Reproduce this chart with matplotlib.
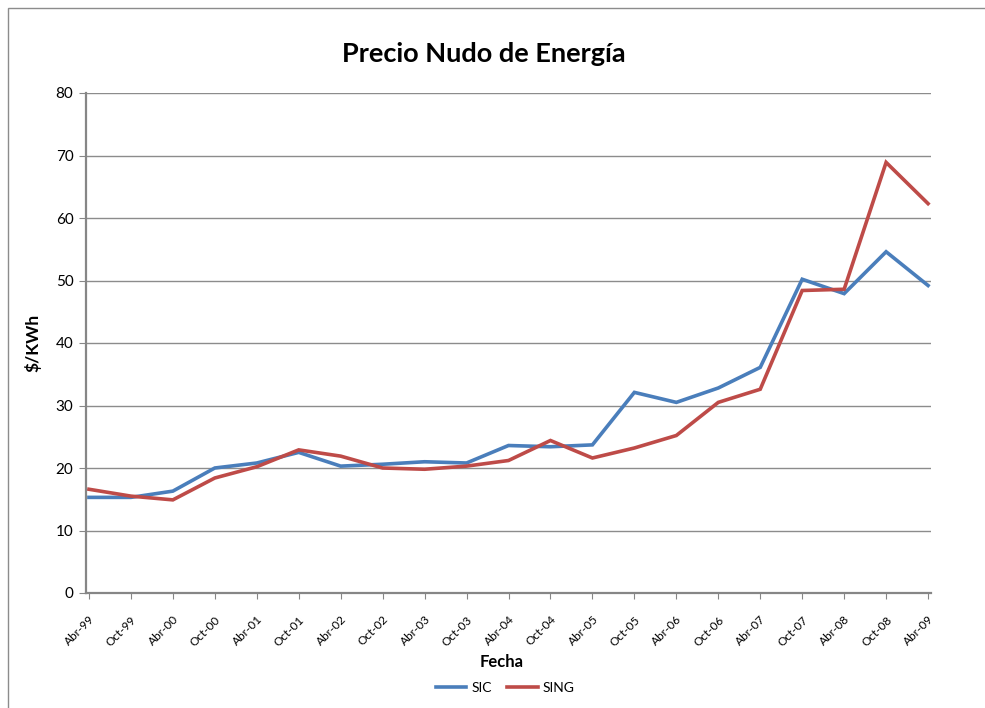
import matplotlib
matplotlib.use("Agg")
import matplotlib.pyplot as plt
from matplotlib.patches import Rectangle

fechas = ["Abr-99", "Oct-99", "Abr-00", "Oct-00", "Abr-01", "Oct-01", "Abr-02",
          "Oct-02", "Abr-03", "Oct-03", "Abr-04", "Oct-04", "Abr-05", "Oct-05",
          "Abr-06", "Oct-06", "Abr-07", "Oct-07", "Abr-08", "Oct-08", "Abr-09"]
sic = [15.3, 15.3, 16.3, 20.0, 20.8, 22.5, 20.3, 20.6, 21.0, 20.8, 23.6,
       23.4, 23.7, 32.1, 30.5, 32.8, 36.1, 50.2, 47.9, 54.6, 49.2]
sing = [16.6, 15.5, 14.9, 18.4, 20.2, 22.9, 21.9, 20.0, 19.8, 20.3, 21.2,
        24.4, 21.6, 23.2, 25.2, 30.5, 32.6, 48.4, 48.6, 68.9, 62.3]

plt.rcParams['font.family'] = ['Lato', 'DejaVu Sans']

W, H = 985, 708
fig = plt.figure(figsize=(W / 100, H / 100), dpi=100)
fig.patches.append(Rectangle((8 / W, -0.1), 1.2, 1 - 8 / H + 0.1, transform=fig.transFigure,
                             fill=False, edgecolor='#8c8c8c', linewidth=1.0))

ax = fig.add_axes([86 / W, 1 - 593 / H, (931 - 86) / W, (593 - 93) / H])
x = list(range(len(fechas)))
ax.plot(x, sic, color='#4A7EBB', linewidth=2.6, label='SIC', solid_joinstyle='miter')
ax.plot(x, sing, color='#BE4B48', linewidth=2.6, label='SING', solid_joinstyle='miter')

ax.set_ylim(0, 80)
ax.set_yticks(range(0, 81, 10))
ax.set_xlim(-0.07, 20.07)
ax.set_xticks(x)
ax.set_xticklabels(fechas, rotation=45, ha='right', va='top', rotation_mode='anchor',
                   fontsize=8.5)
ax.tick_params(axis='y', labelsize=11, length=5, color='#868686', direction='out', pad=4)
ax.tick_params(axis='x', length=4, color='#868686', direction='out', pad=11)
ax.grid(axis='y', color='#8c8c8c', linewidth=1.0)
ax.set_axisbelow(True)
for s in ['top', 'right']:
    ax.spines[s].set_visible(False)
for s in ['left', 'bottom']:
    ax.spines[s].set_color('#868686')
    ax.spines[s].set_linewidth(1.6)

fig.text(484 / W, 1 - 54 / H, 'Precio Nudo de Energía', ha='center', va='center',
         fontsize=19.5, fontweight='bold')
fig.text(33 / W, 1 - 343 / H, '$/KWh', ha='center', va='center', rotation=90,
         fontsize=12.5, fontweight='bold')
fig.text(502 / W, 1 - 662 / H, 'Fecha', ha='center', va='center',
         fontsize=12, fontweight='bold')
fig.legend(loc='center', bbox_to_anchor=(505 / W, 1 - 688 / H), ncol=2, frameon=False,
           fontsize=10, handlelength=2.2, columnspacing=1.1, handletextpad=0.35)

fig.savefig('out.png', dpi=100)
